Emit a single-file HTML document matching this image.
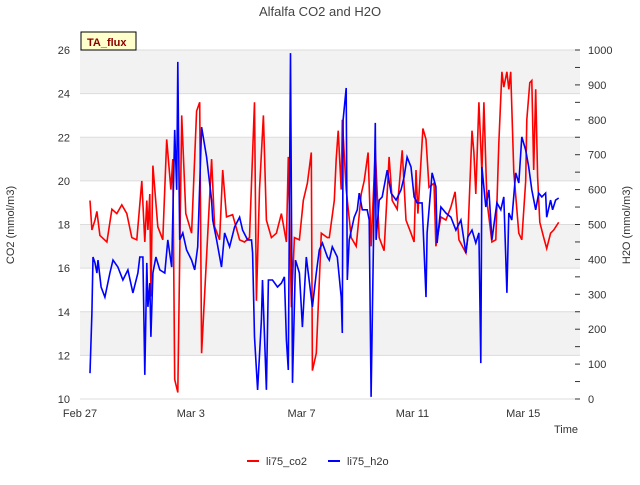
<!DOCTYPE html>
<html><head><meta charset="utf-8"><style>
body{margin:0;background:#fff;font-family:"Liberation Sans",sans-serif}
svg text{font-family:"Liberation Sans",sans-serif}
</style></head><body>
<svg id="c" width="640" height="480" xmlns="http://www.w3.org/2000/svg">
<text x="320" y="16" text-anchor="middle" font-size="13" fill="#444">Alfalfa CO2 and H2O</text>
<g id="grid"></g>
<g id="axes"></g>
<path id="red" fill="none" stroke="#ff0000" stroke-width="1.6"/>
<path id="blue" fill="none" stroke="#0000ff" stroke-width="1.6"/>
<g>
<rect x="81" y="32" width="55" height="18" fill="#ffffcc" stroke="#000" stroke-width="1"/>
<text x="87" y="46" font-size="11" font-weight="bold" fill="#8b0000">TA_flux</text></g>
<text x="14" y="225" transform="rotate(-90 14 225)" text-anchor="middle" font-size="11" fill="#333">CO2 (mmol/m3)</text>
<text x="630" y="225" transform="rotate(-90 630 225)" text-anchor="middle" font-size="11" fill="#333">H2O (mmol/m3)</text>
<text x="566" y="433" text-anchor="middle" font-size="11" fill="#333">Time</text>
<g><line x1="247" y1="461" x2="259" y2="461" stroke="#f00" stroke-width="2"/><text x="266" y="465" font-size="11" fill="#333">li75_co2</text></g>
<g><line x1="328" y1="461" x2="340" y2="461" stroke="#00f" stroke-width="2"/><text x="347" y="465" font-size="11" fill="#333">li75_h2o</text></g>
</svg>
<script>
const xTickLabels=["Feb 27","Mar 3","Mar 7","Mar 11","Mar 15"];
const xTickDays=[0,4,8,12,16];
const leftTicks=[10,12,14,16,18,20,22,24,26];
const rightTicks=[0,100,200,300,400,500,600,700,800,900,1000];
const co2Days=[0.36,0.43,0.54,0.61,0.72,0.97,1.15,1.33,1.51,1.69,1.87,2.05,2.23,2.34,2.41,2.45,2.52,2.56,2.63,2.81,2.99,3.13,3.28,3.35,3.42,3.53,3.67,3.82,4.03,4.21,4.32,4.39,4.75,4.86,5.04,5.15,5.29,5.51,5.76,5.94,6.12,6.30,6.37,6.48,6.62,6.73,6.91,7.09,7.27,7.45,7.52,7.63,7.74,7.92,8.06,8.21,8.35,8.39,8.53,8.71,8.93,9.00,9.18,9.25,9.32,9.43,9.47,9.61,9.79,9.97,10.15,10.26,10.40,10.51,10.66,10.80,10.98,11.16,11.27,11.45,11.63,11.77,11.95,12.06,12.13,12.20,12.38,12.49,12.60,12.78,12.85,13.03,13.21,13.39,13.54,13.68,13.93,14.00,14.15,14.22,14.29,14.40,14.51,14.58,14.69,14.87,15.01,15.12,15.23,15.30,15.41,15.48,15.55,15.66,15.84,15.95,16.09,16.13,16.24,16.31,16.38,16.45,16.52,16.60,16.74,16.85,16.99,17.10,17.28];
const co2Values=[19.1,17.75,18.2,18.6,17.5,17.2,18.7,18.5,18.9,18.5,17.4,17.3,20.0,17.2,19.1,17.75,19.4,14.7,20.7,17.9,17.3,21.9,19.6,21.0,10.9,10.3,23.0,18.5,17.6,23.2,23.6,12.1,21.0,17.9,17.3,20.5,18.35,18.45,17.3,17.2,17.4,23.6,14.5,19.6,23.0,18.2,17.4,17.6,18.5,17.2,21.1,14.2,17.4,17.3,19.1,19.9,21.3,11.3,12.1,17.6,17.4,17.4,19.1,21.0,22.3,19.6,22.8,19.6,17.4,17.0,19.4,20.0,21.3,17.0,21.4,17.4,16.8,21.1,19.1,18.7,21.4,18.2,17.6,17.2,20.5,18.5,22.4,21.9,19.7,19.9,17.0,18.35,18.2,18.8,19.5,17.3,16.7,17.4,22.3,21.3,19.4,23.6,20.4,23.6,19.1,17.2,17.3,21.7,25.0,24.3,25.0,24.2,25.0,20.4,17.6,17.3,20.0,22.8,24.5,24.6,20.5,24.2,20.2,18.1,17.4,16.9,17.6,17.75,18.1];
const h2oDays=[0.36,0.43,0.47,0.54,0.61,0.65,0.76,0.90,1.08,1.19,1.37,1.55,1.73,1.91,2.09,2.16,2.27,2.34,2.41,2.45,2.52,2.56,2.63,2.74,2.88,3.06,3.17,3.31,3.42,3.49,3.53,3.60,3.71,3.85,4.03,4.14,4.25,4.39,4.57,4.75,4.79,4.93,5.11,5.22,5.40,5.58,5.76,5.87,6.05,6.19,6.23,6.30,6.41,6.55,6.59,6.73,6.80,6.95,7.13,7.27,7.38,7.45,7.52,7.60,7.67,7.78,7.92,8.03,8.17,8.39,8.53,8.64,8.75,8.93,9.00,9.11,9.29,9.43,9.47,9.50,9.61,9.65,9.72,9.90,10.01,10.08,10.19,10.37,10.44,10.51,10.66,10.69,10.80,10.91,11.09,11.23,11.41,11.59,11.70,11.81,11.95,12.06,12.17,12.35,12.49,12.53,12.71,12.85,12.89,13.03,13.21,13.39,13.57,13.75,13.93,14.00,14.15,14.29,14.40,14.47,14.51,14.65,14.76,14.87,15.05,15.19,15.30,15.41,15.48,15.59,15.73,15.84,15.95,16.09,16.20,16.31,16.45,16.56,16.67,16.81,16.85,16.99,17.06,17.17,17.28];
const h2oValues=[74,246,407,390,361,398,321,292,361,398,378,341,370,304,361,407,407,69,390,264,332,178,361,407,370,361,456,378,771,599,966,456,476,427,398,370,436,779,693,570,513,456,378,476,436,493,521,484,456,456,418,178,26,226,341,26,341,341,321,332,350,169,83,991,46,398,361,206,407,264,361,427,447,407,398,436,407,292,189,799,891,341,456,521,542,590,542,542,513,6,791,456,570,579,656,590,570,599,636,693,665,579,562,562,292,476,648,608,447,550,533,521,484,513,418,464,484,447,476,103,665,550,599,456,562,542,579,304,533,513,648,619,751,713,665,599,542,590,579,590,521,570,542,570,576];
const L=80,R=580,T=50,B=399;
const xs=d=>L+d*27.7;
const yL=v=>B-(v-10)/16*(B-T);
const yR=v=>B-v/1000*(B-T);
const NS="http://www.w3.org/2000/svg";
function mk(tag,attrs,parent,txt){const e=document.createElementNS(NS,tag);for(const k in attrs)e.setAttribute(k,attrs[k]);if(txt!==undefined)e.textContent=txt;parent.appendChild(e);return e;}
const grid=document.getElementById('grid'),axes=document.getElementById('axes');
for(let i=0;i<leftTicks.length-1;i++){
  if(i%2===1){const r=mk('rect',{x:L,y:yL(leftTicks[i+1]),width:R-L,height:yL(leftTicks[i])-yL(leftTicks[i+1]),fill:'#f2f2f2'},grid);
  
  }
}
leftTicks.forEach(v=>{
  const l=mk('line',{x1:L,x2:R,y1:yL(v),y2:yL(v),stroke:'#dcdcdc','stroke-width':1},grid);
  
  
  const t=mk('text',{x:L-10,y:yL(v)+4,'text-anchor':'end','font-size':11,fill:'#333'},axes,v);
  
  
});
rightTicks.forEach(v=>{
  const t=mk('text',{x:R+8,y:yR(v)+4,'font-size':11,fill:'#333'},axes,v);
  
  
  mk('line',{x1:R-5,x2:R,y1:yR(v),y2:yR(v),stroke:'#333'},axes);
  if(v<1000)mk('line',{x1:R-5,x2:R,y1:yR(v+50),y2:yR(v+50),stroke:'#333'},axes);
});
xTickDays.forEach((d,i)=>{
  const t=mk('text',{x:xs(d),y:B+18,'text-anchor':'middle','font-size':11,fill:'#333'},axes,xTickLabels[i]);
  
  
});
function path(days,vals,yf){let s='';const n=Math.min(days.length,vals.length);for(let i=0;i<n;i++)s+=(i?'L':'M')+xs(days[i]).toFixed(1)+' '+yf(vals[i]).toFixed(1);return s;}
document.getElementById('red').setAttribute('d',path(co2Days,co2Values,yL));
document.getElementById('blue').setAttribute('d',path(h2oDays,h2oValues,yR));
</script>
</body></html>
